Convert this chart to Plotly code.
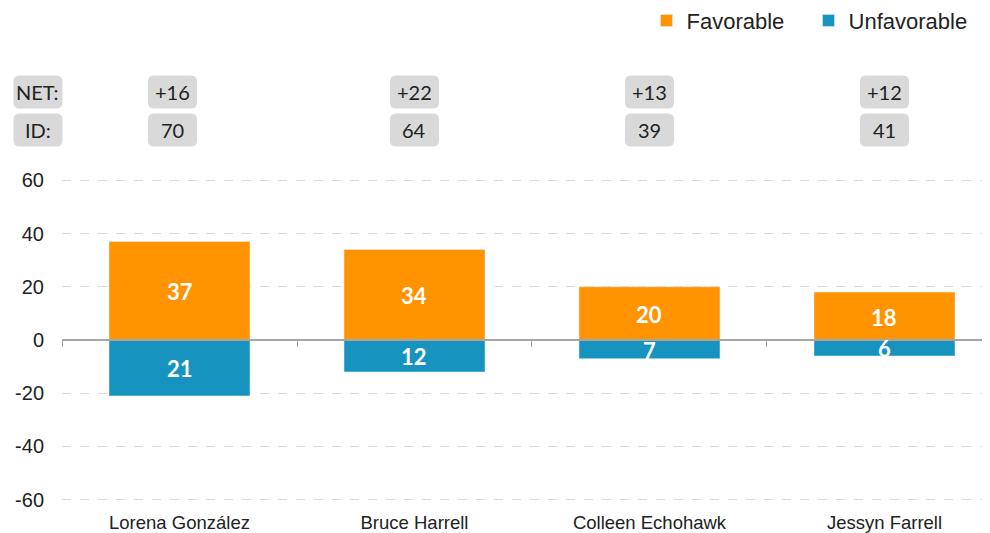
import plotly.graph_objects as go

candidates = ["Lorena González", "Bruce Harrell", "Colleen Echohawk", "Jessyn Farrell"]
favorable = [37, 34, 20, 18]
unfavorable = [-21, -12, -7, -6]
net_labels = ["+16", "+22", "+13", "+12"]
id_labels = ["70", "64", "39", "41"]
y_ticks = [-60, -40, -20, 0, 20, 40, 60]

ORANGE = "#FF9300"
BLUE = "#1793C0"
BOX_GREY = "#D9D9D9"
LABEL_FONT = "Lato, 'Open Sans', sans-serif"
AXIS_FONT = "'Liberation Sans', Arial, sans-serif"

fig = go.Figure()
fig.add_trace(go.Bar(x=candidates, y=favorable, name="Favorable", marker_color=ORANGE))
fig.add_trace(go.Bar(x=candidates, y=unfavorable, name="Unfavorable", marker_color=BLUE))

annotations = []
shapes = []
# centred value labels
for c, f, u in zip(candidates, favorable, unfavorable):
    for v in (f, u):
        annotations.append(dict(
            text=str(abs(v)), x=c, y=v / 2, xref="x", yref="y", showarrow=False,
            xanchor="center", yanchor="middle", yshift=-1,
            font=dict(family=LABEL_FONT, size=22, color="white", weight="bold"),
        ))


def rounded_path(cx, hw=24.5, hh=16.5, r=6):
    x0, x1 = cx - hw, cx + hw
    y0, y1 = -hh, hh
    return (f"M{x0 + r},{y0} L{x1 - r},{y0} Q{x1},{y0} {x1},{y0 + r} "
            f"L{x1},{y1 - r} Q{x1},{y1} {x1 - r},{y1} L{x0 + r},{y1} "
            f"Q{x0},{y1} {x0},{y1 - r} L{x0},{y0 + r} Q{x0},{y0} {x0 + r},{y0} Z")


def box(text, x, y, xref, xshift=0):
    shapes.append(dict(
        type="path", xref=xref, yref="paper", xsizemode="pixel", ysizemode="pixel",
        xanchor=x, yanchor=y, path=rounded_path(xshift),
        fillcolor=BOX_GREY, line=dict(width=0), layer="below",
    ))
    annotations.append(dict(
        text=text, x=x, y=y, xref=xref, yref="paper", showarrow=False,
        xanchor="center", yanchor="middle", xshift=xshift,
        font=dict(family=LABEL_FONT, size=20, color="#222222"),
    ))

box("NET:", -0.0259, 1.2515, "paper")
box("ID:", -0.0259, 1.1366, "paper")
for k, (c, n, i) in enumerate(zip(candidates, net_labels, id_labels)):
    xs = -7 if k == 0 else 0
    box(n, c, 1.2515, "x", xs)
    box(i, c, 1.1366, "x", xs)

fig.update_layout(
    width=990, height=533,
    barmode="relative", bargap=0.4,
    plot_bgcolor="white", paper_bgcolor="white",
    margin=dict(l=54, r=8, t=166.67, b=35.67, autoexpand=False),
    showlegend=True,
    legend=dict(orientation="h", x=0.979, xanchor="right", y=1.4677, yanchor="middle",
                font=dict(family=AXIS_FONT, size=22, color="#222222"),
                traceorder="normal", itemwidth=30, entrywidth=117),
    annotations=annotations,
    shapes=shapes,
    xaxis=dict(
        type="category", categoryorder="array", categoryarray=candidates,
        range=[-0.5, 3.449], showgrid=False, showline=False, ticks="",
        tickfont=dict(family=AXIS_FONT, size=18.5, color="#222222"),
        ticklabelstandoff=4,
    ),
    xaxis2=dict(
        type="category", categoryorder="array", categoryarray=candidates,
        matches="x", overlaying="x", anchor="free", position=0.5, side="bottom",
        showgrid=False, showline=True, linecolor="#A6A6A6", linewidth=2,
        ticks="outside", tickson="boundaries", ticklen=6, tickcolor="#A6A6A6",
        showticklabels=False,
    ),
    yaxis=dict(
        range=[-62, 62], tickvals=y_ticks, ticktext=[str(v) for v in y_ticks],
        showgrid=True, gridcolor="#D9D9D9",
        griddash="dash", gridwidth=1, zeroline=False, showline=False,
        tickfont=dict(family=AXIS_FONT, size=20, color="#222222"),
        ticklabelstandoff=17,
    ),
)

# invisible trace to make xaxis2 active
fig.add_trace(go.Bar(x=candidates, y=[0, 0, 0, 0], xaxis="x2", showlegend=False,
                     hoverinfo="skip", marker_color="rgba(0,0,0,0)"))

fig.write_html("out.html")
